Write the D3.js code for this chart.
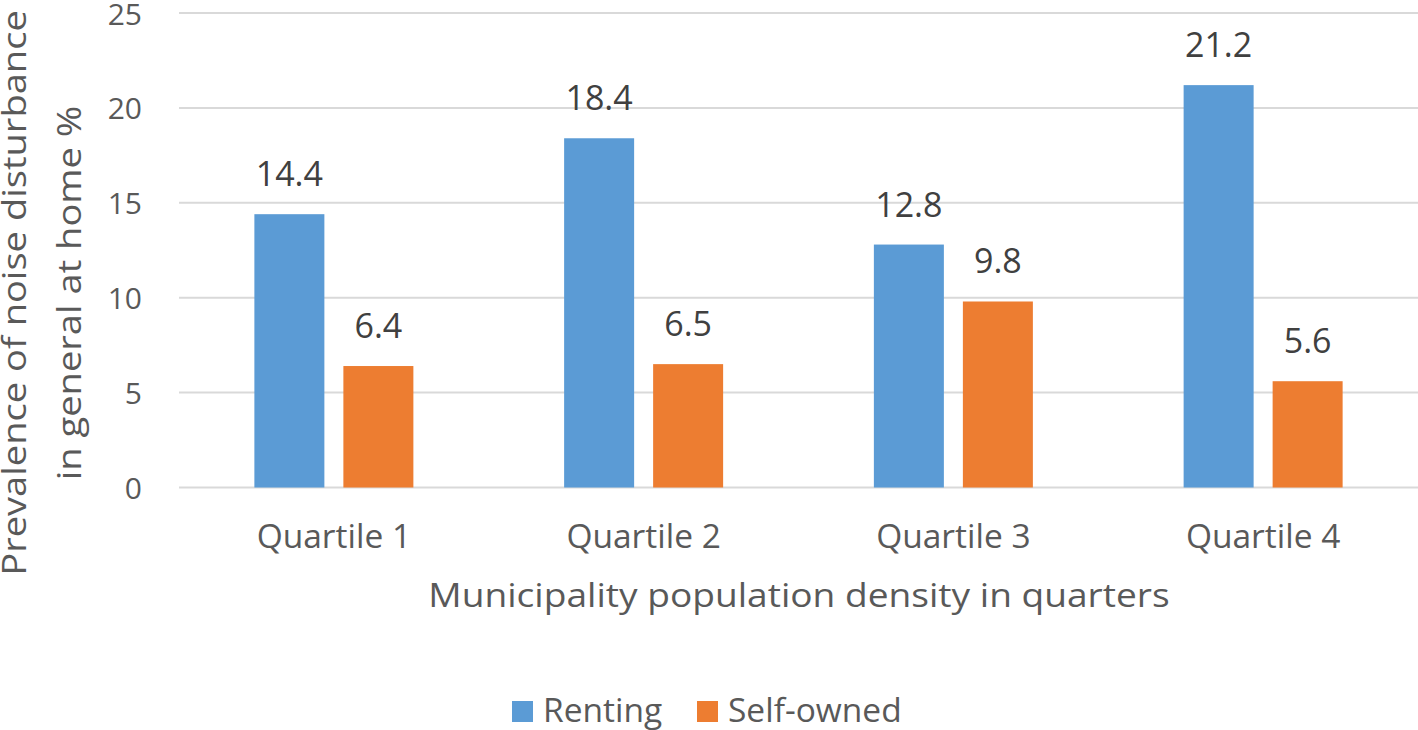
<!DOCTYPE html>
<html><head><meta charset="utf-8">
<script src="https://cdn.jsdelivr.net/npm/d3@7"></script>
<style>body{margin:0;background:#fff}text{font-family:"Open Sans",Lato,sans-serif}</style>
</head><body>
<svg id="c" width="1418" height="730"></svg>
<script>
const categories = ["Quartile 1","Quartile 2","Quartile 3","Quartile 4"];
const seriesNames = ["Renting","Self-owned"];
const renting = [14.4, 18.4, 12.8, 21.2];
const selfOwned = [6.4, 6.5, 9.8, 5.6];
const yTicks = [0,5,10,15,20,25];
const colors = ["#5B9BD5","#ED7D31"];

(function(){
const svg = d3.select("#c");
const mL = 179, mR = 1418, mT = 13, mB = 487.5;
const x = d3.scaleBand().domain(categories).range([mL,mR]);
const xs = d3.scaleBand().domain(seriesNames).range([0,159]).paddingInner(19/89);
const y = d3.scaleLinear().domain([0,25]).range([mB,mT]);
const textCol = "#595959";

svg.append("g").selectAll("line").data(yTicks).join("line")
  .attr("x1",mL).attr("x2",mR).attr("y1",d=>y(d)).attr("y2",d=>y(d))
  .attr("stroke","#d9d9d9").attr("stroke-width",2);

svg.append("g").selectAll("text").data(yTicks).join("text")
  .attr("x",142).attr("y",d=>y(d)+11.5).attr("text-anchor","end")
  .attr("font-size",30).attr("fill",textCol).text(d=>d);

const data = [renting, selfOwned];
seriesNames.forEach((s,si)=>{
  const g = svg.append("g");
  g.selectAll("rect").data(categories).join("rect")
    .attr("x",c=>x(c)+x.bandwidth()/2-79.5+xs(s))
    .attr("width",xs.bandwidth())
    .attr("y",(c,i)=>y(data[si][i]))
    .attr("height",(c,i)=>mB-y(data[si][i]))
    .attr("fill",colors[si]);
  g.selectAll("text").data(categories).join("text")
    .attr("x",c=>x(c)+x.bandwidth()/2-79.5+xs(s)+xs.bandwidth()/2)
    .attr("y",(c,i)=>y(data[si][i])-28)
    .attr("text-anchor","middle").attr("font-size",34).attr("fill","#404040")
    .text((c,i)=>data[si][i].toFixed(1));
});

svg.append("g").selectAll("text").data(categories).join("text")
  .attr("x",c=>x(c)+x.bandwidth()/2).attr("y",548)
  .attr("text-anchor","middle").attr("font-size",33.5).attr("fill",textCol).text(c=>c);

svg.append("text").attr("transform","translate(799,607) scale(1.16,1)").attr("text-anchor","middle")
  .attr("font-size",32).attr("fill",textCol).text("Municipality population density in quarters");

const yt = svg.append("text").attr("transform","translate(0,293) rotate(-90) scale(1.19,1)")
  .attr("text-anchor","middle").attr("font-size",32).attr("fill",textCol);
yt.append("tspan").attr("x",0).attr("y",26).text("Prevalence of noise disturbance");
yt.append("tspan").attr("x",0).attr("y",81).text("in general at home %");

const legX = [512, 697];
seriesNames.forEach((s,i)=>{
  svg.append("rect").attr("x",legX[i]).attr("y",701).attr("width",21).attr("height",21).attr("fill",colors[i]);
  svg.append("text").attr("x",legX[i]+31).attr("y",722).attr("font-size",33.5).attr("fill",textCol).text(s);
});
})();
</script>
</body></html>
